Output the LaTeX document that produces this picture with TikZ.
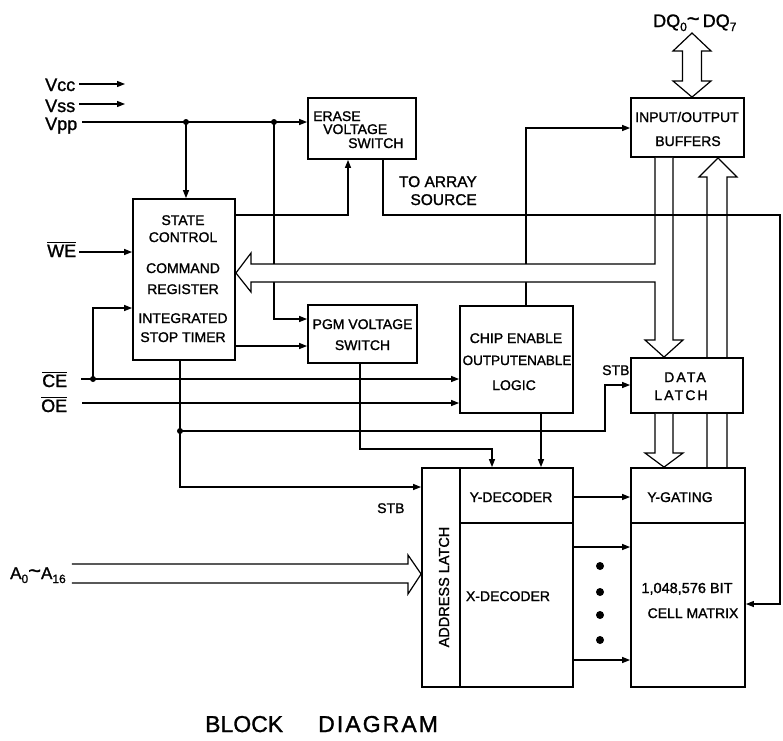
\documentclass[tikz,border=0pt]{standalone}
\usepackage{fontspec}
\setmainfont{Liberation Sans}[FakeBold=1.3]
\usepackage{amsmath}
\usetikzlibrary{arrows.meta,backgrounds}
\newcommand{\bxf}{\fontsize{14}{16}\selectfont}
\newcommand{\bgf}{\fontsize{18}{20}\selectfont}
\newcommand{\lowsub}[1]{\raisebox{-4pt}{\fontsize{12}{12}\selectfont #1}}
\newcommand{\bigtilde}{\raisebox{1pt}{\fontsize{22}{22}\selectfont\textasciitilde}}
\begin{document}
\begin{tikzpicture}[x=1pt,y=-1pt,
  box/.style={draw, line width=1.8pt, inner sep=0pt, fill=white},
  ln/.style={line width=1.2pt},
  arr/.style={line width=1.2pt, -{Triangle[length=8pt,width=6pt]}},
  bus/.style={line width=1.2pt, line join=miter},
  tx/.style={font=\bxf, inner sep=0pt, anchor=base},
  lab/.style={font=\bgf, inner sep=0pt, anchor=base west},
  jdot/.style={circle, fill, inner sep=0pt, minimum size=6pt},
  bigdot/.style={circle, fill, inner sep=0pt, minimum size=8pt},
]
\useasboundingbox (0,0) rectangle (783,740);

% ---------- boxes ----------
\node[box, minimum width=108pt, minimum height=61pt] (erase) at (362,128.5) {};
\node[box, minimum width=113pt, minimum height=59pt] (io) at (687.5,127.5) {};
\node[box, minimum width=102pt, minimum height=161pt] (sc) at (184,279.5) {};
\node[box, minimum width=109pt, minimum height=58pt] (pgm) at (362.5,334) {};
\node[box, minimum width=113pt, minimum height=107pt] (ce) at (516.5,359.5) {};
\node[box, minimum width=112pt, minimum height=55pt] (dl) at (687,385.5) {};
\node[box, minimum width=38pt, minimum height=219pt] (alatch) at (441,577.5) {};
\node[box, minimum width=113pt, minimum height=55pt] (ydec) at (516.5,495.5) {};
\node[box, minimum width=113pt, minimum height=164pt] (xdec) at (516.5,605) {};
\node[box, minimum width=114pt, minimum height=55pt] (ygate) at (688,495.5) {};
\node[box, minimum width=114pt, minimum height=164pt] (cmat) at (688,605) {};

% ---------- box texts ----------
\node[tx, anchor=base west] (t1) at (313,121) {ERASE};
\node[tx, anchor=base west] (t2) at (323,134) {VOLTAGE};
\node[tx, anchor=base west] (t3) at (348,148) {SWITCH};
\node[tx] (t4) at (687,122) {INPUT/OUTPUT};
\node[tx] (t5) at (688,146) {BUFFERS};
\node[tx] (t6) at (183,225) {STATE};
\node[tx] (t7) at (183,242) {CONTROL};
\node[tx] (t8) at (183,273) {COMMAND};
\node[tx] (t9) at (183,294) {REGISTER};
\node[tx] (t10) at (183,323) {INTEGRATED};
\node[tx] (t11) at (183,342) {STOP TIMER};
\node[tx] (t12) at (362.5,329) {PGM VOLTAGE};
\node[tx] (t13) at (362.5,350) {SWITCH};
\node[tx] (t14) at (516,343) {CHIP ENABLE};
\node[tx, font=\fontsize{13.5}{16}\selectfont] (t15) at (517,365) {OUTPUTENABLE};
\node[tx] (t16) at (514,390) {LOGIC};
\node[tx, font=\bxf\addfontfeatures{LetterSpace=15}] (t17) at (685,382) {DATA};
\node[tx, font=\bxf\addfontfeatures{LetterSpace=15}] (t18) at (681,400) {LATCH};
\node[tx] (t19) at (511,502) {Y-DECODER};
\node[tx] (t20) at (508,601) {X-DECODER};
\node[tx] (t21) at (680,502) {Y-GATING};
\node[tx, font=\fontsize{14.5}{16}\selectfont] (t22) at (687,593) {1,048,576 BIT};
\node[tx] (t23) at (693,618) {CELL MATRIX};
\node[font=\fontsize{14.5}{16}\selectfont, rotate=90, inner sep=0pt] (t24) at (444,587) {ADDRESS LATCH};

% ---------- outside labels ----------
\node[lab] (vcc) at (45,91) {Vcc};
\node[lab] (vss) at (45,112) {Vss};
\node[lab] (vpp) at (45,130) {Vpp};
\node[lab] (wel) at (47,257) {$\overline{\text{WE}}$};
\node[lab] (cel) at (42,387) {$\overline{\text{CE}}$};
\node[lab] (oel) at (41,412) {$\overline{\text{OE}}$};
\node[lab, font=\fontsize{17}{20}\selectfont] (a0) at (10,579) {A\lowsub{0}\bigtilde A\lowsub{16}};
\node[lab] (dq) at (653,27) {DQ\lowsub{0}\bigtilde\,DQ\lowsub{7}};
\node[font=\fontsize{15.5}{18}\selectfont, inner sep=0pt, anchor=base east] (toarr) at (477,187) {TO ARRAY};
\node[font=\fontsize{15.5}{18}\selectfont, inner sep=0pt, anchor=base east] (src) at (477,205) {SOURCE};
\node[tx, anchor=base west] (stb1) at (602,375) {STB};
\node[tx, anchor=base west] (stb2) at (377,513) {STB};
\node[font=\fontsize{23}{26}\selectfont, inner sep=0pt, anchor=base west] (blk) at (205,732) {BLOCK};
\node[font=\fontsize{23}{26}\selectfont\addfontfeatures{LetterSpace=9}, inner sep=0pt, anchor=base west] (diag) at (318,732) {DIAGRAM};

% ---------- junction dots ----------
\node[jdot] (d1) at (186,122) {};
\node[jdot] (d2) at (274,122) {};
\node[jdot] (d3) at (93,379) {};
\node[jdot] (d4) at (180,431) {};
\node[bigdot] (b1) at (600,566) {};
\node[bigdot] (b2) at (600,592) {};
\node[bigdot] (b3) at (600,615) {};
\node[bigdot] (b4) at (600,640) {};

\coordinate (vccend) at (125,84);
\coordinate (vssend) at (125,104);

% ---------- bus behind data latch ----------
\begin{scope}[on background layer]
\draw[bus] (ygate.north -| 707,0) -- (707,177) -- (699,177) -- (io.south -| 718,0) -- (737,177) -- (727,177) -- (ygate.north -| 727,0);
\end{scope}

% ---------- connectors ----------
\draw[arr] ([xshift=4pt]vcc.east |- vccend) -- (vccend);
\draw[arr] ([xshift=4pt]vss.east |- vssend) -- (vssend);
\draw[arr] ([xshift=5pt]vpp.east |- 0,122) -- (erase.west |- 0,122);
\draw[arr] (d1.center) -- (sc.north -| d1);
\draw[arr] (d2.center) -- (274,319) -- (pgm.west |- 0,319);
\draw[arr] ([xshift=3pt]wel.east |- 0,252) -- (sc.west |- 0,252);
\draw[arr] ([xshift=14pt]cel.east |- 0,379) -- (ce.west |- 0,379);
\draw[arr] (d3.center) -- (93,308) -- (sc.west |- 0,308);
\draw[arr] ([xshift=15pt]oel.east |- 0,403) -- (ce.west |- 0,403);
\draw[arr] (sc.east |- 0,346) -- (pgm.west |- 0,346);
\draw[ln] (sc.south -| d4) -- (d4.center);
\draw[arr] (d4.center) -- (180,487) -- (alatch.west |- 0,487);
\draw[arr] (d4.center) -- (605,431) -- (605,385) -- (dl.west |- 0,385);
\draw[arr] (pgm.south -| 360,0) -- (360,449) -- (492,449) -- (ydec.north -| 492,0);
\draw[arr] (ce.south -| 541,0) -- (ydec.north -| 541,0);
\draw[arr] (ce.north -| 526,0) -- (526,128) -- (io.west |- 0,128);
\draw[arr] (ydec.east |- 0,497) -- (ygate.west |- 0,497);
\draw[arr] (xdec.east |- 0,547) -- (cmat.west |- 0,547);
\draw[arr] (xdec.east |- 0,660) -- (cmat.west |- 0,660);

% ---------- wide buses ----------
\draw[bus] (io.north -| 692,0) -- (673,81) -- (682.5,81) -- (682.5,51) -- (673,51) -- (692,33) -- (711,51) -- (701.5,51) -- (701.5,81) -- (711,81) -- cycle;
\draw[bus, fill=white] (io.south -| 655,0) -- (655,264) -- (251,264) -- (251,253) -- (sc.east |- 0,273) -- (251,292) -- (251,282) -- (655,282) -- (655,340) -- (645,340) -- (dl.north -| 664,0) -- (683,340) -- (673,340) -- (io.south -| 673,0);
\draw[bus, fill=white] (dl.south -| 655,0) -- (655,453) -- (645,453) -- (ygate.north -| 664,0) -- (683,453) -- (673,453) -- (dl.south -| 673,0);
\draw[bus, fill=white] ([xshift=6pt]a0.east |- 0,564) -- (408,564) -- (408,555) -- (alatch.west |- 0,574) -- (408,594) -- (408,583) -- ([xshift=6pt]a0.east |- 0,583);

% ---------- lines crossing the buses ----------
\draw[arr] (sc.east |- 0,215) -- (348,215) -- (erase.south -| 348,0);
\draw[arr] (erase.south -| 383,0) -- (383,215) -- (780,215) -- (780,604) -- (cmat.east |- 0,604);
\end{tikzpicture}
\end{document}
